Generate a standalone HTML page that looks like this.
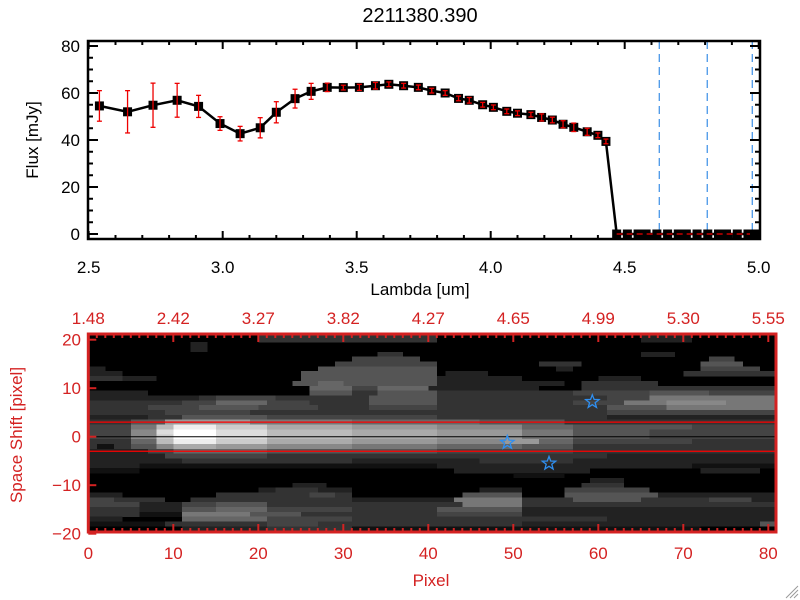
<!DOCTYPE html>
<html><head><meta charset="utf-8"><style>
html,body{margin:0;padding:0;background:#fff;}
svg{display:block;font-family:"Liberation Sans",sans-serif;}
</style></head><body>
<svg id="chart" width="800" height="600" viewBox="0 0 800 600" xmlns="http://www.w3.org/2000/svg">
<rect width="800" height="600" fill="#fff"/>
<g id="topPanel"></g>
<g id="botPanel"></g>
<g stroke="#999" stroke-width="1">
<line x1="786" y1="598" x2="798" y2="586"/><line x1="790" y1="598" x2="798" y2="590"/><line x1="794" y1="598" x2="798" y2="594"/>
</g>
</svg>
<script>
// ---- Top chart data ----
const lambdaVals = [2.54,2.645,2.74,2.83,2.91,2.99,3.065,3.14,3.20,3.27,3.33,3.39,3.45,3.51,3.57,3.62,3.675,3.73,3.78,3.83,3.88,3.92,3.97,4.01,4.06,4.10,4.15,4.19,4.23,4.27,4.31,4.36,4.40,4.43,4.47,4.51,4.55,4.58,4.62,4.66,4.70,4.73,4.77,4.81,4.85,4.88,4.92,4.96,4.99];
const fluxVals = [54.5,52,54.8,56.9,54.3,47,42.7,45.2,51.8,57.6,60.7,62.4,62.3,62.4,63.1,63.7,63.1,62.4,61,60,57.7,56.9,55,53.9,52.2,51.4,50.8,49.6,48.5,46.7,45.4,43.5,42,39.4,0,0,0,0,0,0,0,0,0,0,0,0,0,0,0];
const errVals = [6.5,9,9.4,7.2,4.7,2.9,3.1,4.3,4.5,4,3.4,1.8,1,1.3,1.4,1,1,1,1,1,1,1.2,1,1,1,1,1,1.5,1.2,1.5,1.8,1.5,1,1,0,0,0,0,0,0,0,0,0,0,0,0,0,0,0];
const xTickLabels = ["2.5","3.0","3.5","4.0","4.5","5.0"];
const xTickVals = [2.5,3.0,3.5,4.0,4.5,5.0];
const yTickVals = [0,20,40,60,80];
const markerLines = [4.629,4.808,4.976];
const zeroLineStart = 4.47;

// ---- Bottom image data ----
const pixTickVals = [0,10,20,30,40,50,60,70,80];
const wlTickLabels = ["1.48","2.42","3.27","3.82","4.27","4.65","4.99","5.30","5.55"];
const shiftTickVals = [20,10,0,-10,-20];
const apertureHalf = 3;
const starX = [59.3,49.3,54.2];
const starY = [7.2,-1.2,-5.5];
// rows from shift +20 down to -20; runs "c0-c1:level(hex)"
const imageRows = [
"0-19:0,20-40:3,41-64:0,65-70:2,71-80:0",
"0-11:0,12-13:2,14-80:0",
"0-11:0,12-13:2,14-80:0",
"0-33:0,34-36:3,37-64:0,65-68:2,69-80:0",
"0-30:0,31-38:4,39-72:0,73-75:4,76-80:0",
"0-28:0,29-40:4,41-52:0,53-57:3,58-71:0,72-76:5,77-80:0",
"0-1:2,2-26:0,27-40:5,41-54:0,55-56:2,57-71:0,72-78:4,79-80:0",
"0-3:2,4-24:0,25-40:5,41-41:0,42-46:2,47-69:0,70-80:3",
"0-3:3,4-7:2,8-24:0,25-40:5,41-50:2,51-59:0,60-64:2,65-80:0",
"0-23:0,24-26:5,27-29:6,30-40:5,41-55:2,56-57:0,58-66:3,67-80:0",
"0-25:0,26-30:6,31-33:4,34-39:6,40-52:2,53-57:0,58-66:3,67-80:3",
"0-6:2,7-25:0,26-30:5,31-33:3,34-40:5,41-45:3,46-56:3,57-65:4,66-72:5,73-80:4",
"0-12:2,13-14:3,15-21:4,22-32:3,33-40:5,41-60:3,61-65:4,66-80:7",
"0-10:3,11-14:4,15-20:6,21-25:4,26-32:3,33-40:5,41-56:3,57-62:4,63-67:7,68-74:8,75-80:7",
"0-6:3,7-12:4,13-19:5,20-26:4,27-32:3,33-40:4,41-60:3,61-67:5,68-80:7",
"0-8:3,9-18:4,19-60:3,61-80:4",
"0-6:2,7-10:3,11-20:5,21-40:4,41-60:3,61-80:2",
"0-4:3,5-8:5,9-18:9,19-30:7,31-45:6,46-55:5,56-80:3",
"0-4:4,5-7:7,8-9:b,10-14:e,15-20:c,21-30:a,31-40:9,41-50:8,51-56:6,57-70:5,71-80:4",
"0-4:4,5-7:8,8-9:d,10-14:f,15-20:d,21-30:b,31-40:a,41-50:9,51-56:7,57-65:5,66-80:4",
"0-4:4,5-7:8,8-9:c,10-14:f,15-20:d,21-30:b,31-40:a,41-50:9,51-56:7,57-65:5,66-80:4",
"0-4:3,5-7:6,8-9:b,10-14:e,15-20:c,21-30:a,31-40:9,41-48:8,49-52:9,53-56:6,57-70:4,71-80:3",
"0-0:3,1-2:1,3-4:3,5-7:5,8-9:8,10-14:a,15-20:9,21-30:8,31-40:7,41-50:6,51-56:5,57-80:3",
"0-6:2,7-9:4,10-20:6,21-40:5,41-56:4,57-80:3",
"0-8:2,9-20:4,21-60:3,61-80:2",
"0-10:2,11-30:3,31-45:2,46-56:3,57-80:2",
"0-5:2,6-40:1,41-70:2,71-80:1",
"0-5:1,6-42:0,43-58:2,59-71:0,72-78:2,79-80:0",
"0-49:0,50-55:1,56-80:0",
"0-58:0,59-62:2,63-80:0",
"0-23:0,24-27:2,28-57:0,58-62:3,63-80:0",
"0-19:0,20-21:2,22-26:3,27-30:2,31-45:0,46-50:2,51-55:0,56-65:4,66-80:0",
"0-3:2,4-14:0,15-25:3,26-28:4,29-30:3,31-43:0,44-50:5,51-55:0,56-66:5,67-80:2",
"0-2:4,3-8:3,9-11:0,12-30:3,31-42:2,43-50:7,51-56:3,57-64:5,65-72:3,73-77:4,78-80:2",
"0-5:4,6-10:2,11-14:4,15-20:5,21-43:3,44-50:7,51-80:3",
"0-5:3,6-10:2,11-14:5,15-20:6,21-30:4,31-40:3,41-50:5,51-80:2",
"0-5:3,6-10:1,11-18:7,19-24:5,25-40:3,41-50:4,51-80:2",
"0-3:2,4-10:0,11-20:6,21-30:4,31-60:3,61-80:2",
"0-8:1,9-20:3,21-26:4,27-50:3,51-78:2,79-80:5",
"0-10:0,11-20:2,21-30:3,31-71:1,72-80:0",
"0-20:0,21-40:2,41-80:1"
];

const NS = "http://www.w3.org/2000/svg";
function mk(parent, tag, attrs, text){
  const e = document.createElementNS(NS, tag);
  for (const k in attrs) e.setAttribute(k, attrs[k]);
  if (text !== undefined) e.textContent = text;
  parent.appendChild(e);
  return e;
}

// ===== TOP PANEL =====
const topG = document.getElementById('topPanel');
const L=88, R=760, T=41, B=239;
const xs = v => 88.7 + (v-2.5)*268;
const ys = v => 234 - v*2.35;

let t = mk(topG,'text',{x:420,y:22,'font-size':20,'text-anchor':'middle',fill:'#000'},'2211380.390');



markerLines.forEach((m,i)=>{
  const l = mk(topG,'line',{x1:xs(m),x2:xs(m),y1:T,y2:B,stroke:'#3a8ee6','stroke-width':1.2,'stroke-dasharray':'8,5'});
  
  
});

let pts = lambdaVals.map((v,i)=>xs(v).toFixed(1)+','+ys(fluxVals[i]).toFixed(1)).join(' ');
let pl = mk(topG,'polyline',{points:pts,fill:'none',stroke:'#000','stroke-width':2.5});



lambdaVals.forEach((v,i)=>{
  const s = mk(topG,'rect',{x:xs(v)-4.5,y:ys(fluxVals[i])-4.5,width:9,height:9,fill:'#000'});
  
  
});
let zl = mk(topG,'line',{x1:xs(zeroLineStart),x2:R,y1:ys(0),y2:ys(0),stroke:'#e00','stroke-width':1.2,'stroke-dasharray':'6,4'});


lambdaVals.forEach((v,i)=>{
  if(errVals[i]<=0) return;
  const g = mk(topG,'g',{stroke:'#e00','stroke-width':1.3});
  
  
  const x=xs(v), y1=ys(fluxVals[i]+errVals[i]), y2=ys(fluxVals[i]-errVals[i]);
  mk(g,'line',{x1:x,x2:x,y1:y1,y2:y2});
  mk(g,'line',{x1:x-2.5,x2:x+2.5,y1:y1,y2:y1});
  mk(g,'line',{x1:x-2.5,x2:x+2.5,y1:y2,y2:y2});
});

let fr = mk(topG,'rect',{x:L,y:T,width:R-L,height:B-T,fill:'none',stroke:'#000','stroke-width':2.5});


const tk = mk(topG,'g',{stroke:'#000','stroke-width':2});


for(let k=0;k<=25;k++){
  const v=2.5+k*0.1, x=xs(v), len=(k%5===0)?8:4;
  mk(tk,'line',{x1:x,x2:x,y1:B,y2:B-len});
  mk(tk,'line',{x1:x,x2:x,y1:T,y2:T+len});
}
for(let k=0;k<=16;k++){
  const v=k*5, y=ys(v), len=(k%4===0)?10:5;
  mk(tk,'line',{x1:L,x2:L+len,y1:y,y2:y});
  mk(tk,'line',{x1:R,x2:R-len,y1:y,y2:y});
}
xTickVals.forEach((v,i)=>{
  const e=mk(topG,'text',{x:xs(v),y:273,'font-size':17,'text-anchor':'middle',fill:'#000'},xTickLabels[i]);
  
  
});
yTickVals.forEach(v=>{
  const e=mk(topG,'text',{x:80,y:ys(v)+6,'font-size':17,'text-anchor':'end',fill:'#000'},String(v));
  
  
});
t=mk(topG,'text',{x:420,y:295,'font-size':17,'text-anchor':'middle',fill:'#000'},'Lambda [um]');


t=mk(topG,'text',{x:0,y:0,'font-size':17,'text-anchor':'middle',fill:'#000',transform:'translate(38,140) rotate(-90)'},'Flux [mJy]');



// ===== BOTTOM PANEL =====
const botG = document.getElementById('botPanel');
const BL=88.3, BR=776, BT=334, BB=532;
const px = c => 88.3 + c*8.5;
const py = v => 436.7 - v*4.85;
const RED = '#d42222';

let bg = mk(botG,'rect',{x:BL,y:BT,width:BR-BL,height:BB-BT,fill:'#000'});


const hm = mk(botG,'g',{'shape-rendering':'crispEdges'});


imageRows.forEach((row,ri)=>{
  const sv = 20 - ri;
  let y1 = py(sv+0.5), y2 = py(sv-0.5);
  if (ri===0) y1 = BT;
  if (ri===imageRows.length-1) y2 = BB;
  y1 = Math.max(y1,BT); y2 = Math.min(y2,BB);
  row.split(',').forEach(seg=>{
    const parts = seg.split(':');
    const ab = parts[0].split('-').map(Number);
    const level = parseInt(parts[1],16);
    if(level===0) return;
    const g = Math.round(level*17);
    for(let c=ab[0];c<=ab[1];c++){
      const x1=px(c), x2=Math.min(px(c+1),BR);
      const cell = mk(hm,'rect',{x:x1,y:y1,width:x2-x1+0.3,height:y2-y1+0.3,fill:'rgb('+g+','+g+','+g+')'});
      
      
    }
  });
});
[apertureHalf,-apertureHalf].forEach(v=>{
  const l=mk(botG,'line',{x1:BL,x2:BR,y1:py(v),y2:py(v),stroke:'#f00','stroke-width':1.3});
  
  
});
let cl=mk(botG,'line',{x1:BL,x2:BR,y1:py(0),y2:py(0),stroke:'#000','stroke-width':1});


function starPath(cx,cy,r){
  let d='';
  for(let k=0;k<10;k++){
    const rr = k%2===0 ? r : r*0.42;
    const a = -Math.PI/2 + k*Math.PI/5;
    d += (k===0?'M':'L') + (cx+rr*Math.cos(a)).toFixed(1)+','+(cy+rr*Math.sin(a)).toFixed(1);
  }
  return d+'Z';
}
starX.forEach((c,i)=>{
  const s=mk(botG,'path',{d:starPath(px(c),py(starY[i]),7),fill:'none',stroke:'#2f8ff0','stroke-width':1.3});
  
  
});
let bf=mk(botG,'rect',{x:BL,y:BT,width:BR-BL,height:BB-BT,fill:'none',stroke:RED,'stroke-width':3});


const bt = mk(botG,'g',{stroke:RED,'stroke-width':2});


for(let c=0;c<=80;c++){
  const len=(c%10===0)?8:4, x=px(c);
  mk(bt,'line',{x1:x,x2:x,y1:BB,y2:BB-len});
  mk(bt,'line',{x1:x,x2:x,y1:BT,y2:BT+len});
}
shiftTickVals.forEach(v=>{
  mk(bt,'line',{x1:BL,x2:BL+8,y1:py(v),y2:py(v)});
});
pixTickVals.forEach((v,i)=>{
  let e=mk(botG,'text',{x:px(v),y:559,'font-size':17,'text-anchor':'middle',fill:RED},String(v));
  
  
  e=mk(botG,'text',{x:px(v),y:324,'font-size':17,'text-anchor':'middle',fill:RED},wlTickLabels[i]);
  
  
});
shiftTickVals.forEach(v=>{
  const e=mk(botG,'text',{x:81,y:py(v)+6,'font-size':17,'text-anchor':'end',fill:RED},v<0?'\u2212'+Math.abs(v):String(v));
  
  
});
t=mk(botG,'text',{x:431,y:586,'font-size':17,'text-anchor':'middle',fill:RED},'Pixel');


t=mk(botG,'text',{x:0,y:0,'font-size':17,'text-anchor':'middle',fill:RED,transform:'translate(22,435) rotate(-90)'},'Space Shift [pixel]');


</script>
</body></html>
